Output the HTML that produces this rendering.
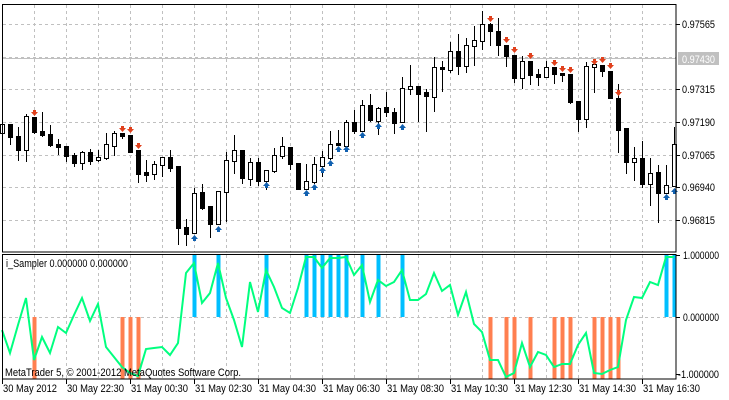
<!DOCTYPE html>
<html><head><meta charset="utf-8"><style>
html,body{margin:0;padding:0;background:#fff;}
svg{display:block;font-family:"Liberation Sans",Tahoma,sans-serif;font-size:11px;}
</style></head><body>
<svg id="s" width="729" height="400" xmlns="http://www.w3.org/2000/svg">
<rect width="729" height="400" fill="#fff"/>
<g id="grid" stroke="#c0c0c0" stroke-dasharray="3,3" stroke-width="1"></g>
<line x1="2" y1="58.5" x2="676" y2="58.5" stroke="#c0c0c0" stroke-width="1"/>
<g id="ind"></g>
<g id="cdl"></g>
<g id="arr"></g>
<rect x="2.5" y="4.5" width="673.5" height="247.5" fill="none" stroke="#000"/>
<rect x="2.5" y="254.5" width="673.5" height="124.5" fill="none" stroke="#000"/>
<g id="ax" fill="#000"></g>
<rect x="678" y="52" width="41" height="13" fill="#c0c0c0"/>
<text x="682" y="63" fill="#fff" textLength="33" lengthAdjust="spacingAndGlyphs">0.97430</text>
<text x="6" y="267" textLength="122" lengthAdjust="spacingAndGlyphs">i_Sampler 0.000000 0.000000</text>
<text x="5" y="376" textLength="236" lengthAdjust="spacingAndGlyphs">MetaTrader 5, © 2001-2012 MetaQuotes Software Corp.</text>
</svg>
<script>
var NS="http://www.w3.org/2000/svg";
function el(p,t,a,txt){var e=document.createElementNS(NS,t);for(var k in a)e.setAttribute(k,a[k]);if(txt)e.textContent=txt;document.getElementById(p).appendChild(e);return e;}
[24,57,89,122,155,187,220].forEach(function(y){el("grid","line",{x1:3,y1:y+.5,x2:676,y2:y+.5});});
el("grid","line",{x1:3,y1:317.5,x2:676,y2:317.5});
for(var x=34;x<=642;x+=32){el("grid","line",{x1:x+.5,y1:5,x2:x+.5,y2:252});el("grid","line",{x1:x+.5,y1:255,x2:x+.5,y2:379});}
var pl=[[24,"0.97565"],[89,"0.97315"],[122,"0.97190"],[155,"0.97065"],[187,"0.96940"],[220,"0.96815"]];
pl.forEach(function(p){el("ax","rect",{x:676,y:p[0],width:4,height:1});el("ax","text",{x:682,y:p[0]+4,textLength:33,lengthAdjust:"spacingAndGlyphs"},p[1]);});
[[255,"1.000000",259],[317,"0.000000",321],[374,"-1.000000",378]].forEach(function(p){el("ax","rect",{x:676,y:p[0],width:4,height:1});var neg=p[1][0]=="-";el("ax","text",{x:neg?678:683,y:p[2],textLength:neg?41:36,lengthAdjust:"spacingAndGlyphs"},p[1]);});
var tl=["30 May 2012","30 May 22:30","31 May 00:30","31 May 02:30","31 May 04:30","31 May 06:30","31 May 08:30","31 May 10:30","31 May 12:30","31 May 14:30","31 May 16:30"];
tl.forEach(function(t,i){var x=2+64*i;el("ax","rect",{x:x,y:379,width:1,height:5});el("ax","text",{x:x+1,y:392,textLength:i==0?54:57,lengthAdjust:"spacingAndGlyphs"},t);});
var C=[[124,133,124,133,1],[124,137,124,144,0],[136,150,127,160,0],[116,150,114,161,1],[117,132,117,133,0],[131,135,112,136,0],[134,145,125,146,0],[144,147,139,154,0],[146,156,146,161,0],[155,163,153,166,0],[152,163,151,169,1],[152,161,149,164,0],[157,160,150,161,1],[144,158,133,159,1],[133,146,131,155,1],[133,136,133,138,0],[135,152,135,152,0],[150,174,150,182,0],[172,175,160,181,0],[164,174,161,179,1],[157,165,157,176,1],[157,168,150,171,0],[166,228,166,244,0],[227,234,219,245,0],[193,233,188,233,1],[192,208,184,209,0],[206,224,206,237,0],[191,224,191,224,1],[160,192,152,221,1],[150,161,135,173,1],[150,178,150,183,0],[162,179,158,185,1],[162,181,158,185,0],[170,181,170,189,1],[155,171,148,172,1],[146,156,137,158,1],[147,164,147,169,0],[163,189,163,189,0],[181,189,164,189,1],[164,182,157,183,1],[157,166,151,176,1],[144,158,131,159,1],[143,145,130,145,0],[122,146,120,146,1],[122,131,110,133,0],[105,131,100,131,1],[105,120,94,121,0],[108,121,107,134,1],[107,112,92,116,0],[112,123,108,133,0],[88,122,77,122,1],[86,89,65,94,1],[86,94,86,121,0],[92,96,89,131,0],[67,97,57,111,1],[67,69,61,91,0],[51,70,42,72,1],[51,66,34,74,0],[45,66,38,72,1],[40,46,26,65,1],[24,41,11,49,1],[24,31,23,45,0],[31,45,18,55,0],[45,56,45,66,0],[55,78,55,82,0],[61,78,56,88,1],[61,75,61,84,0],[74,77,69,85,0],[67,77,61,77,1],[67,74,67,83,0],[73,75,73,81,0],[74,102,74,103,0],[101,119,101,131,0],[66,119,62,127,1],[64,67,62,92,1],[65,71,65,76,0],[71,98,71,98,0],[98,130,84,152,0],[128,162,128,173,0],[158,162,147,180,1],[158,184,141,187,0],[173,184,158,205,1],[172,193,165,222,0],[185,193,165,193,1],[144,186,127,186,1]];
C.forEach(function(c,k){var x=2+8*k;
el("cdl","line",{x1:x+.5,y1:c[2],x2:x+.5,y2:c[3]+1,stroke:"#000","stroke-width":1});
var h=Math.max(c[1]-c[0],1);
if(c[4])el("cdl","rect",{x:x-1.5,y:c[0]+.5,width:4,height:h,fill:"#fff",stroke:"#000","stroke-width":1});
else el("cdl","rect",{x:x-2,y:c[0],width:5,height:h+1,fill:"#000"});});
var G=[330,353,325,298,360,337,353,327,333,315,298,321,304,347,357,367,373,376,349,348,347,355,343,273,263,303,293,263,298,320,347,282,312,270,287,308,313,288,257,257,268,258,258,257,275,265,302,280,286,282,270,300,300,294,273,291,285,315,292,324,332,360,360,377,373,343,367,352,355,367,364,364,345,333,373,374,370,367,320,297,298,282,285,257,257];
var R={4:110,15:126,16:127,17:143,61:16,63:37,64:47,66:53,69:60,70:66,71:67,74:59,75:57,76:63,77:90};
var B={24:235,27:226,33:182,38:190,39:184,40:167,41:160,42:146,43:146,45:132,47:123,50:124,83:194,84:188};
for(var k in R){var x=2+8*k;el("ind","rect",{x:x-1.5,y:317,width:4,height:62,fill:"#ff7f50"});
el("arr","path",{d:"M"+(x-1)+" "+R[k]+"h3v2h2l-3.5 4l-3.5-4h2z",fill:"#e0401c"});}
for(var k in B){var x=2+8*k;el("ind","rect",{x:x-1.5,y:255,width:4,height:62,fill:"#00bfff"});
el("arr","path",{d:"M"+(x-1)+" "+(B[k]+6)+"h3v-2h2l-3.5-4l-3.5 4h2z",fill:"#1060b0"});}
var pts=G.map(function(y,k){return (2+8*k)+","+y;}).join(" ");
el("ind","polyline",{points:pts,fill:"none",stroke:"#00ff7f","stroke-width":2});
</script>
</body></html>
